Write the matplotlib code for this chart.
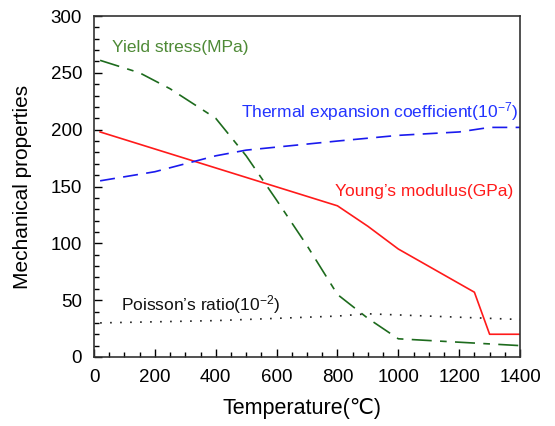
"""Mechanical properties vs temperature"""
import matplotlib.pyplot as plt
from matplotlib.ticker import MultipleLocator

plt.rcParams["font.family"] = ["Liberation Sans", "DejaVu Sans"]
plt.rcParams["mathtext.fontset"] = "custom"
plt.rcParams["mathtext.rm"] = "Liberation Sans"
plt.rcParams["mathtext.it"] = "Liberation Sans"

YOUNG_T = [20, 800, 900, 1000, 1250, 1300, 1400]
YOUNG = [198, 133, 115, 95, 57, 20, 20]

THERMAL_T = [20, 200, 400, 500, 800, 1000, 1200, 1300, 1400]
THERMAL = [155, 163, 177, 182, 190, 195, 198, 202, 202]

YIELD_T = [20, 150, 250, 400, 500, 600, 700, 800, 900, 1000, 1400]
YIELD = [261, 250, 236, 210, 177, 138, 98, 55, 34, 16, 10]

POISSON_T = [20, 400, 800, 900, 1000, 1400]
POISSON = [30, 32, 36, 38, 37, 33]

fig = plt.figure(figsize=(5.55, 4.26), dpi=100)
ax = fig.add_axes([0.1694, 0.162, 0.7676, 0.8004])

ax.plot(YOUNG_T, YOUNG, color="#ff1a1a", lw=1.2)
ax.plot(THERMAL_T, THERMAL, color="#1a1aee", lw=1.2, dashes=(9, 5))
ax.plot(YIELD_T, YIELD, color="#1d6b1d", lw=1.2, dashes=(12, 5, 4, 5))
ax.plot(POISSON_T, POISSON, color="#222222", lw=1.2, dashes=(1, 5))

ax.text(59, 272.7, "Yield stress(MPa)", color="#4e8a36", fontsize=12.5, va="center")
ax.text(482, 215.8, "Thermal expansion coefficient(10$^{-7}$)", color="#2233ff",
        fontsize=12.5, va="center")
ax.text(792, 145.4, "Young\u2019s modulus(GPa)", color="#ff1a1a", fontsize=12.5, va="center")
ax.text(88, 45.7, "Poisson\u2019s ratio(10$^{-2}$)", color="#111111", fontsize=12.5, va="center")

ax.set_xlim(0, 1400)
ax.set_ylim(0, 300)
ax.xaxis.set_major_locator(MultipleLocator(200))
ax.xaxis.set_minor_locator(MultipleLocator(50))
ax.yaxis.set_major_locator(MultipleLocator(50))
ax.yaxis.set_minor_locator(MultipleLocator(10))
ax.tick_params(which="both", direction="in", width=1, labelsize=13.5)
ax.tick_params(which="major", length=5.5)
ax.tick_params(which="minor", length=3.5)
ax.tick_params(axis="x", pad=8.5)
ax.tick_params(axis="y", pad=8.5)
for spine in ax.spines.values():
    spine.set_color("#333333")
    spine.set_linewidth(1.2)

ax.set_xlabel("Temperature(\u2103)", fontsize=15.5)
ax.set_ylabel("Mechanical properties", fontsize=15)
ax.xaxis.set_label_coords(0.488, -0.12)
ax.yaxis.set_label_coords(-0.146, 0.5)

fig.savefig("out.png", dpi=100)
